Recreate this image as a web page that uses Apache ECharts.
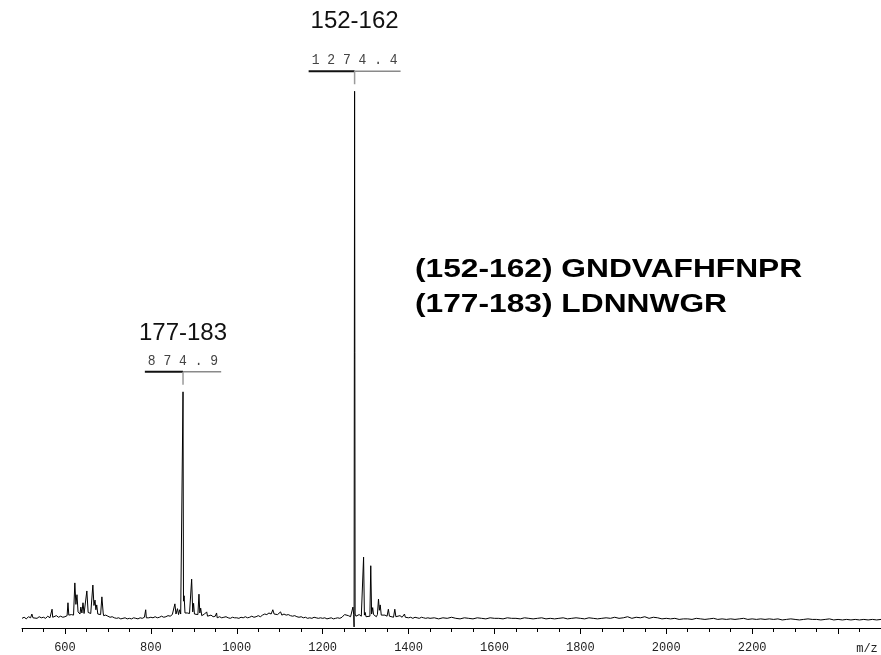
<!DOCTYPE html>
<html>
<head>
<meta charset="utf-8">
<title>MALDI-TOF mass spectrum</title>
<script src="https://cdn.jsdelivr.net/npm/echarts@6.0.0/dist/echarts.min.js"></script>
<style>
  html, body { margin: 0; padding: 0; background: #ffffff; }
  #chart { width: 881px; height: 655px; }
</style>
</head>
<body>
<div id="chart"></div>
<script>
// Labelled peptide peaks: residue range, monoisotopic m/z, relative intensity
const peakRanges = ['177-183', '152-162'];
const peakMz = [874.9, 1274.4];
const peakHeights = [44.0, 100.0];

// Peptide assignments listed beside the spectrum
const assignments = ['(152-162) GNDVAFHFNPR', '(177-183) LDNNWGR'];

// Tick labels on the m/z axis
const mzTickLabels = [600, 800, 1000, 1200, 1400, 1600, 1800, 2000, 2200];
const mzUnit = 'm/z';

// Baseline trace, m/z 500-1445 sampled every 5
const baselineLowStart = 500, baselineLowStep = 5;
const baselineLow = [
  1.8, 2.0, 1.7, 2.1, 1.9, 2.4, 2.0, 1.8, 2.1, 1.9,
  2.0, 1.8, 2.2, 1.9, 2.1, 1.9, 2.3, 2.0, 2.2, 2.0,
  2.1, 2.3, 2.2, 2.5, 2.4, 2.7, 2.5, 2.8, 2.6, 2.4,
  2.6, 2.9, 2.7, 2.6, 2.8, 2.5, 2.4, 2.6, 2.3, 2.4,
  2.2, 2.0, 2.1, 1.9, 1.8, 1.9, 1.7, 1.8, 1.9, 1.7,
  1.8, 1.7, 1.9, 1.8, 1.7, 1.9, 1.8, 2.0, 1.8, 1.9,
  2.0, 1.9, 2.1, 1.9, 2.0, 2.2, 2.0, 2.1, 2.3, 2.2,
  2.5, 2.7, 2.6, 2.9, 2.8, 2.9, 3.1, 2.8, 2.7, 2.6,
  2.6, 2.4, 2.5, 2.3, 2.4, 2.6, 2.3, 2.2, 2.4, 2.1,
  2.2, 2.0, 2.1, 1.9, 2.0, 2.1, 1.9, 1.8, 2.0, 1.9,
  1.9, 1.8, 2.0, 1.9, 2.1, 1.9, 2.0, 2.2, 2.0, 2.1,
  2.3, 2.1, 2.4, 2.6, 2.5, 2.8, 2.6, 2.9, 2.7, 2.5,
  2.7, 2.5, 2.6, 2.4, 2.5, 2.3, 2.2, 2.3, 2.1, 2.0,
  2.1, 1.9, 2.0, 1.8, 1.9, 1.8, 2.0, 1.9, 1.8, 1.9,
  1.8, 1.9, 1.7, 1.8, 1.9, 1.7, 1.8, 1.9, 1.8, 2.0,
  2.2, 2.4, 2.3, 2.1, 2.4, 2.6, 2.3, 2.5, 2.2, 2.4,
  2.3, 2.1, 2.2, 2.0, 2.3, 2.1, 2.4, 2.2, 2.6, 2.4,
  2.2, 2.3, 2.1, 2.0, 2.2, 2.1, 2.3, 2.0, 1.9, 2.1,
  1.9, 2.0, 1.8, 2.0, 1.9, 1.8, 2.0, 1.9, 1.8, 1.9
];

// Baseline trace, m/z 1450-2500 sampled every 10
const baselineHighStart = 1450, baselineHighStep = 10;
const baselineHigh = [
  1.8, 1.9, 1.7, 1.9, 1.8, 2.0, 1.8, 1.7, 1.9, 1.8,
  1.7, 1.9, 1.8, 1.7, 1.9, 1.8, 1.8, 1.7, 1.9, 1.8,
  1.8, 1.7, 1.9, 1.8, 1.7, 1.8, 1.9, 1.7, 1.8, 1.7,
  1.8, 1.9, 1.7, 1.8, 1.9, 1.8, 1.7, 1.9, 1.8, 1.7,
  1.8, 1.9, 1.8, 2.0, 1.8, 1.9, 2.1, 1.8, 2.0, 1.9,
  2.1, 1.8, 2.0, 1.9, 1.7, 1.8, 1.7, 1.8, 1.6, 1.7,
  1.7, 1.6, 1.8, 1.7, 1.6, 1.7, 1.8, 1.6, 1.7, 1.6,
  1.7, 1.6, 1.7, 1.8, 1.6, 1.7, 1.6, 1.7, 1.6, 1.7,
  1.6, 1.7, 1.5, 1.6, 1.7, 1.6, 1.5, 1.6, 1.7, 1.6,
  1.6, 1.5, 1.6, 1.7, 1.5, 1.6, 1.5, 1.6, 1.5, 1.6,
  1.5, 1.6, 1.5, 1.6, 1.5, 1.6
];

// Peak profiles [m/z, intensity]; labelled apexes come from peakMz / peakHeights
const peakProfiles = [
  [[521, 2.0], [523, 2.6], [525.5, 1.9]],
  [[568.5, 2.0], [570, 3.5], [571.5, 2.0]],
  [[605, 2.3], [607, 4.7], [609, 2.4]],
  [[620.5, 2.6], [623, 8.4], [625.5, 4.4], [628, 6.2], [630.5, 3.0]],
  [[635, 2.6], [637, 3.9], [639.5, 2.8], [642, 4.7], [644.5, 2.7]],
  [[648.5, 2.6], [651, 6.9], [654, 2.9]],
  [[662, 2.7], [665, 8.0], [667.5, 4.2], [670, 5.2], [672, 3.4], [674, 4.3], [676.5, 2.6]],
  [[683, 2.5], [686, 5.8], [689, 2.8]],
  [[786.5, 1.9], [788, 3.4], [789.5, 1.9]],
  [[853.5, 2.4], [856, 4.5], [858.5, 2.6], [862, 3.6], [864.5, 2.5], [867, 3.4], [869.5, 2.6]],
  [[873.6, 2.6], [876.0, 5.0], [877.5, 6.0], [879.5, 2.8]],
  [[892.5, 2.6], [895, 9.1], [897.5, 3.0], [899.5, 4.6], [901.5, 2.6]],
  [[909.5, 2.5], [912, 6.3], [914, 2.8], [916, 3.7], [918.5, 2.3]],
  [[928, 2.3], [930, 3.0], [932, 2.2]],
  [[951.5, 2.0], [953, 2.8], [954.5, 1.9]],
  [[1081, 2.5], [1084, 3.4], [1087, 2.6]],
  [[1099, 2.5], [1102, 3.0], [1105, 2.4]],
  [[1249, 2.1], [1251, 2.5], [1253, 2.2]],
  [[1268.5, 2.4], [1270.5, 3.9], [1272.3, 2.5], [1273.2, 0.2], [1275.6, 2.6], [1277.5, 2.2]],
  [[1293.5, 2.2], [1295.3, 13.2], [1297.2, 2.4], [1299, 2.9], [1301, 2.1]],
  [[1310, 2.2], [1312, 11.6], [1314, 2.6], [1316.5, 3.8], [1318.5, 2.5]],
  [[1327.5, 2.5], [1330, 5.4], [1332, 3.3], [1334, 4.3], [1336.5, 2.4]],
  [[1350.5, 2.2], [1353, 3.5], [1355.5, 2.2]],
  [[1365.5, 2.1], [1368, 3.5], [1370.5, 2.1]],
  [[1388.5, 2.0], [1390.5, 2.6], [1392.5, 2.0]]
];

// Assemble the trace: baseline samples outside peak windows, profiles, labelled apexes
function buildTrace() {
  const windows = peakProfiles.map(p => [p[0][0], p[p.length - 1][0]]);
  const inPeak = mz => windows.some(w => mz >= w[0] && mz <= w[1]);
  const pts = [];
  baselineLow.forEach((v, i) => {
    const mz = baselineLowStart + i * baselineLowStep;
    if (!inPeak(mz)) pts.push([mz, v]);
  });
  baselineHigh.forEach((v, i) => {
    const mz = baselineHighStart + i * baselineHighStep;
    if (!inPeak(mz)) pts.push([mz, v]);
  });
  peakProfiles.forEach(p => p.forEach(pt => pts.push(pt.slice())));
  peakMz.forEach((mz, i) => pts.push([mz, peakHeights[i]]));
  pts.sort((a, b) => a[0] - b[0]);
  return pts;
}

const chart = echarts.init(document.getElementById('chart'), null, { renderer: 'canvas' });

const monoFont = '"Liberation Mono", "DejaVu Sans Mono", monospace';
const sansFont = '"Liberation Sans", Arial, sans-serif';
const labelFontSize = 14;
const labelSqueeze = 0.93;                      // horizontal squeeze of the value captions
const labelCharW = labelFontSize * 0.6 * labelSqueeze;

function spaced(v) {
  return v.toFixed(1).split('').join(' ');
}

// Offset (px) of each range caption above its peak apex
const captionLift = [58, 70];

const option = {
  animation: false,
  backgroundColor: '#ffffff',
  grid: { left: 22, right: 0, top: 0, bottom: 27 },
  xAxis: [
    {
      type: 'value',
      min: 500,
      max: 2500,
      splitNumber: 10,
      axisLine: { show: true, lineStyle: { color: '#000', width: 1 } },
      axisTick: { show: true, length: 6, lineStyle: { color: '#000', width: 1 } },
      splitLine: { show: false },
      axisLabel: {
        show: true,
        showMinLabel: false,
        showMaxLabel: false,
        margin: 14,
        color: '#222',
        fontFamily: monoFont,
        fontSize: 12,
        formatter: v => (mzTickLabels.indexOf(v) >= 0 ? String(v) : '')
      }
    },
    {
      type: 'value',
      position: 'bottom',
      min: 500,
      max: 2500,
      interval: 50,
      axisLine: { show: false },
      axisTick: { show: true, length: 4, lineStyle: { color: '#000', width: 1 } },
      axisLabel: { show: false },
      splitLine: { show: false }
    }
  ],
  yAxis: { type: 'value', min: 0, max: 117, show: false },
  graphic: [
    {
      type: 'text', x: 415, y: 270, scaleX: 1.22,
      style: { text: assignments[0], font: 'bold 26px ' + sansFont, fill: '#000', verticalAlign: 'middle' }
    },
    {
      type: 'text', x: 415, y: 305, scaleX: 1.22,
      style: { text: assignments[1], font: 'bold 26px ' + sansFont, fill: '#000', verticalAlign: 'middle' }
    },
    {
      type: 'text', x: 867, y: 649,
      style: { text: mzUnit, font: '12px ' + monoFont, fill: '#222', align: 'center', verticalAlign: 'middle' }
    }
  ],
  series: [
    {
      type: 'line',
      xAxisIndex: 0,
      data: buildTrace(),
      showSymbol: false,
      symbol: 'none',
      sampling: null,
      lineStyle: { color: '#000', width: 1 },
      z: 2
    },
    {
      type: 'custom',
      xAxisIndex: 0,
      clip: false,
      data: peakMz.map((mz, i) => [mz, peakHeights[i], i]),
      encode: { x: 0, y: 1 },
      renderItem: (params, api) => {
        const i = api.value(2);
        const p = api.coord([api.value(0), api.value(1)]);
        const x = p[0], y = p[1];
        const txt = spaced(peakMz[i]);
        const w = txt.length * labelCharW + 6;
        const by = y - 20;
        return {
          type: 'group',
          children: [
            { type: 'line', shape: { x1: x - w / 2, y1: by, x2: x, y2: by }, style: { stroke: '#111', lineWidth: 2 } },
            { type: 'line', shape: { x1: x, y1: by, x2: x + w / 2, y2: by }, style: { stroke: '#8a8a8a', lineWidth: 1.5 } },
            { type: 'line', shape: { x1: x, y1: by, x2: x, y2: y - 7 }, style: { stroke: '#9a9a9a', lineWidth: 1.5 } },
            {
              type: 'text', x: x, y: y - 31, scaleX: labelSqueeze,
              style: { text: txt, x: 0, y: 0, align: 'center', verticalAlign: 'middle', font: labelFontSize + 'px ' + monoFont, fill: '#444' }
            },
            { type: 'text', style: { text: peakRanges[i], x: x, y: y - captionLift[i], align: 'center', verticalAlign: 'middle', font: '24px ' + sansFont, fill: '#111' } }
          ]
        };
      },
      z: 3
    }
  ]
};

chart.setOption(option);
</script>
</body>
</html>
